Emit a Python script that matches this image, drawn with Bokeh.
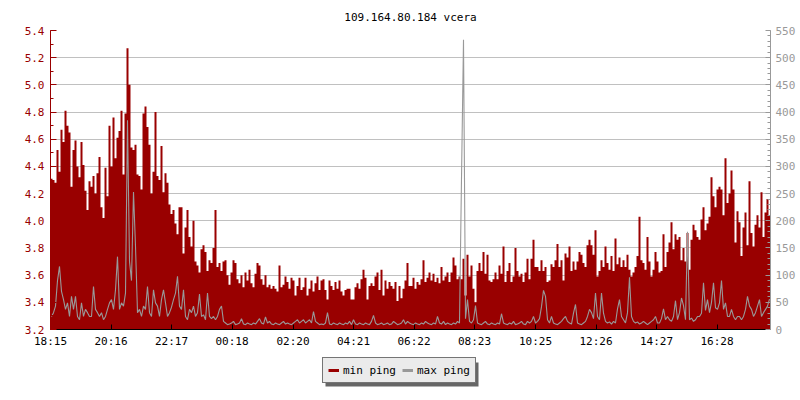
import numpy as np
from bokeh.plotting import figure
from bokeh.layouts import column
from bokeh.models import (Range1d, LinearAxis, FixedTicker, PrintfTickFormatter,
                          Legend, LegendItem, BoxAnnotation)
from bokeh.embed import file_html
from bokeh.resources import INLINE

title_text = "109.164.80.184 vcera"
start_label = "18:15"
tick_labels = ["18:15", "20:16", "22:17", "00:18", "02:20", "04:21",
               "06:22", "08:23", "10:25", "12:26", "14:27", "16:28"]
sample_minutes = 4
left_min, left_max, left_step = 3.2, 5.4, 0.2
right_min, right_max, right_step = 0, 550, 50
series_names = ["min ping", "max ping"]

min_ping = [
    4.31, 4.30, 4.28, 4.52, 4.36, 4.67, 4.58, 4.81, 4.70, 4.65, 4.25, 4.52, 4.59, 4.40, 4.32,
    4.58, 4.41, 4.22, 4.08, 4.29, 4.25, 4.33, 4.20, 4.35, 4.47, 4.10, 4.02, 4.39, 4.18, 4.70,
    4.40, 4.76, 4.46, 4.61, 4.66, 4.81, 4.34, 4.79, 5.27, 5.00, 4.54, 4.52, 4.56, 4.34, 4.33,
    4.23, 4.79, 4.84, 4.69, 4.56, 4.20, 4.36, 4.80, 4.33, 4.30, 4.55, 4.21, 4.35, 4.28,
    4.12, 4.05, 4.08, 3.98, 3.90, 4.10, 4.10, 3.76, 3.95, 4.08, 3.88, 3.81, 4.00, 3.70, 3.67,
    3.62, 3.79, 3.82, 3.77, 3.63, 3.71, 3.69, 3.80, 4.08, 3.66, 3.69, 3.63, 3.70, 3.71, 3.60,
    3.53, 3.62, 3.71, 3.69, 3.57, 3.54, 3.60, 3.51, 3.62, 3.56, 3.64, 3.54, 3.51, 3.61, 3.69,
    3.67, 3.57, 3.53, 3.60, 3.51, 3.53, 3.50, 3.52, 3.50, 3.48, 3.67, 3.51, 3.53, 3.59, 3.55,
    3.50, 3.58, 3.56, 3.45, 3.52, 3.58, 3.49, 3.51, 3.58, 3.45, 3.50, 3.56, 3.48, 3.54, 3.59,
    3.49, 3.56, 3.57, 3.49, 3.42, 3.56, 3.52, 3.49, 3.55, 3.50, 3.56, 3.48, 3.45, 3.49, 3.50,
    3.50, 3.42, 3.42, 3.51, 3.54, 3.50, 3.57, 3.64, 3.58, 3.42, 3.52, 3.54, 3.52, 3.59, 3.62,
    3.49, 3.64, 3.45, 3.56, 3.50, 3.55, 3.52, 3.50, 3.55, 3.41, 3.52, 3.43, 3.50, 3.56, 3.69,
    3.52,
    3.52, 3.58, 3.50, 3.55, 3.53, 3.57, 3.71, 3.55, 3.58, 3.62, 3.56, 3.61, 3.55, 3.58, 3.54,
    3.66, 3.56, 3.59, 3.62, 3.55, 3.62, 3.73, 3.67, 3.57, 3.59, 3.57, 3.72, 3.45, 3.75, 3.59,
    3.67, 3.50, 3.40, 3.63, 3.69, 3.63, 3.77, 3.61, 3.75, 3.56, 3.55, 3.57, 3.62, 3.57, 3.67,
    3.61, 3.81, 3.55, 3.63, 3.69, 3.55, 3.59, 3.80, 3.63, 3.59, 3.61, 3.55, 3.62, 3.72, 3.57,
    3.72, 3.86, 3.66, 3.66, 3.63, 3.71, 3.63, 3.66, 3.55, 3.56, 3.68, 3.66, 3.71, 3.83, 3.66,
    3.71, 3.56, 3.76, 3.73, 3.81, 3.63, 3.70, 3.64, 3.70, 3.77, 3.75, 3.69, 3.66, 3.82, 3.86,
    3.82, 3.75, 3.93, 3.59, 3.63, 3.71, 3.66, 3.81, 3.69, 3.64, 3.74, 3.63, 3.87, 3.68, 3.73,
    3.66, 3.71, 3.66, 3.75, 3.64, 3.59, 3.62, 3.66, 3.74, 4.03, 3.71, 3.69, 3.64, 3.88, 3.70,
    3.59, 3.64, 3.77, 3.70, 3.62, 3.63, 3.90, 3.66, 3.77, 3.84, 3.99, 3.79, 3.90, 3.86, 3.88,
    3.71, 3.80, 3.70, 3.91, 3.64, 3.86, 3.97, 3.93, 3.88, 3.86, 4.01, 4.10, 3.93, 3.98, 4.03,
    4.32, 4.18, 4.10, 4.23, 4.25, 4.23, 4.04, 4.46, 4.13, 4.20, 4.37, 4.23, 3.84, 4.07, 3.99,
    3.74, 3.95, 4.06, 3.82, 4.29, 3.91, 3.81, 3.97, 4.04, 3.95, 4.21, 3.88, 4.06, 4.16, 4.04,
]

max_ping = [
    24, 31, 43, 90, 116, 70, 55, 37, 49, 24, 61, 37, 61, 24, 18, 49, 24, 37, 31, 24,
    24, 79, 37, 31, 24, 31, 18, 24, 37, 49, 55, 37, 73, 134, 37, 49, 43, 67, 385, 125,
    90, 253, 153, 31, 37, 24, 43, 37, 79, 31, 24, 73, 49, 43, 24, 55, 73, 49, 24,
    31, 41, 55, 67, 98, 43, 37, 73, 24, 18, 37, 31, 43, 24, 31, 65, 24, 27, 18, 67,
    24, 20, 24, 18, 24, 37, 43, 15, 12, 9, 10, 12, 15, 9, 10, 12, 20, 10, 9, 12,
    10, 9, 12, 10, 15, 20, 12, 10, 23, 12, 15, 10, 9, 12, 10, 9, 12, 15, 10, 12,
    10, 9, 12, 15, 18, 12, 15, 18, 12, 15, 18, 12, 33, 15, 12, 9, 10, 9, 12, 31,
    10, 9, 12, 10, 9, 12, 10, 9, 12, 10, 15, 9, 18, 10, 9, 12, 10, 9, 12, 10,
    9, 15, 26, 12, 9, 10, 12, 9, 10, 12, 9, 10, 15, 12, 9, 10, 12, 18, 10, 15, 12,
    10, 9, 12, 10, 9, 12, 10, 15, 12, 10, 9, 12, 10, 24, 12, 10, 15, 9, 12, 10,
    9, 12, 10, 15, 12, 278, 533, 20, 55, 15, 12, 18, 44, 12, 10, 9, 12, 15, 10, 9,
    12, 10, 9, 12, 10, 29, 12, 10, 9, 12, 10, 15, 9, 10, 12, 15, 10, 9, 15, 12,
    15, 24, 12, 15, 20, 42, 72, 61, 18, 12, 24, 12, 10, 9, 12, 15, 20, 24, 15, 12,
    10, 30, 46, 12, 10, 9, 12, 15, 24, 37, 31, 20, 67, 24, 18, 67, 30, 15, 12, 14,
    10, 15, 12, 38, 55, 24, 18, 12, 31, 96, 24, 15, 12, 14, 10, 12, 15, 12, 9, 12,
    15, 18, 24, 12, 12, 20, 38, 18, 24, 18, 15, 24, 53, 18, 31, 58, 44, 18, 180, 18,
    21, 15, 18, 24, 24, 30, 86, 35, 55, 31, 50, 86, 40, 37, 49, 90, 37, 49, 24, 24,
    37, 24, 18, 24, 24, 18, 24, 37, 61, 43, 37, 24, 31, 43, 55, 24, 31, 37, 43, 56,
]

RED = "#990000"
GRAY = "#999999"
FONT = "DejaVu Sans Mono"


def to_minutes(label):
    h, m = map(int, label.split(":"))
    return h * 60 + m


start_min = to_minutes(start_label)
tick_pos = [(to_minutes(l) - start_min) % 1440 for l in tick_labels]

n = len(min_ping)
t = np.arange(n) * sample_minutes
t_end = n * sample_minutes

p = figure(width=800, height=350, output_backend="svg", toolbar_location=None,
           x_range=Range1d(0, t_end), y_range=Range1d(left_min, left_max),
           min_border_left=50, min_border_right=30, min_border_top=30,
           min_border_bottom=20, title=title_text)
p.title.align = "center"
p.title.text_font = FONT
p.title.text_font_size = "11px"
p.title.text_font_style = "normal"
p.title.text_color = "black"
p.title.standoff = 14
p.outline_line_color = None
p.background_fill_color = "white"
p.border_fill_color = "white"
p.extra_y_ranges = {"right": Range1d(right_min, right_max)}

# filled min ping area (step)
xs = list(t) + [t_end]
ys = list(min_ping) + [min_ping[-1]]
p.varea_step(x=xs, y1=[left_min] * len(xs), y2=ys, step_mode="after",
             fill_color=RED, fill_alpha=1.0)

# max ping line on right axis
p.line(x=t + sample_minutes / 2, y=max_ping, y_range_name="right",
       line_color=GRAY, line_width=1.1)

# axes
n_left = int(round((left_max - left_min) / left_step))
left_ticks = [round(left_min + k * left_step, 1) for k in range(n_left + 1)]
left_minor = [round(left_min + k * left_step / 2, 2) for k in range(2 * n_left + 1)]
right_ticks = list(range(right_min, right_max + 1, right_step))
right_minor = list(range(right_min, right_max + 1, 10))

xa = p.xaxis[0]
xa.ticker = FixedTicker(ticks=tick_pos, minor_ticks=[])
xa.major_label_overrides = {pos: lab for pos, lab in zip(tick_pos, tick_labels)}
xa.axis_line_color = "black"
xa.major_tick_line_color = "black"
xa.major_tick_in = 5
xa.major_tick_out = 0
xa.minor_tick_line_color = None
xa.major_label_standoff = 5
xa.major_label_text_font = FONT
xa.major_label_text_font_size = "11px"
xa.major_label_text_color = "black"

ya = p.yaxis[0]
ya.ticker = FixedTicker(ticks=left_ticks, minor_ticks=left_minor)
ya.formatter = PrintfTickFormatter(format="%.1f")
ya.axis_line_color = RED
ya.major_tick_line_color = RED
ya.minor_tick_line_color = RED
ya.major_tick_in = 6
ya.major_tick_out = 0
ya.minor_tick_in = 3
ya.minor_tick_out = 0
ya.major_label_standoff = 6
ya.major_label_text_font = FONT
ya.major_label_text_font_size = "11px"
ya.major_label_text_color = RED

ra = LinearAxis(y_range_name="right",
                ticker=FixedTicker(ticks=right_ticks, minor_ticks=right_minor))
ra.axis_line_color = GRAY
ra.major_tick_line_color = GRAY
ra.minor_tick_line_color = GRAY
ra.major_tick_in = 5
ra.major_tick_out = 0
ra.minor_tick_in = 3
ra.minor_tick_out = 0
ra.major_label_standoff = 5
ra.major_label_text_font = FONT
ra.major_label_text_font_size = "11px"
ra.major_label_text_color = GRAY
p.add_layout(ra, "right")

p.xgrid.visible = False
p.ygrid.ticker = FixedTicker(ticks=left_ticks)
p.ygrid.grid_line_color = "#c0c0c0"
p.ygrid.grid_line_width = 1

# legend strip below the chart (frame aligned with the chart's frame: 720 x 50 px)
LEG_X, LEG_Y, LEG_W, LEG_H, SHADOW = 272, 17, 153, 24, 3
q = figure(width=800, height=50, output_backend="svg", toolbar_location=None,
           x_range=Range1d(0, 720), y_range=Range1d(0, 50),
           x_axis_location=None, y_axis_location=None,
           min_border=0, min_border_left=0, min_border_right=0,
           min_border_top=0, min_border_bottom=0)
q.outline_line_color = None
q.grid.visible = False
q.background_fill_color = "white"
q.border_fill_color = "white"

q.add_layout(BoxAnnotation(left=LEG_X + SHADOW, right=LEG_X + LEG_W + SHADOW,
                           bottom=LEG_Y - SHADOW, top=LEG_Y + LEG_H - SHADOW,
                           fill_color="#666666", fill_alpha=1.0, line_color=None,
                           level="underlay"))

nan = np.array([np.nan])
lg1 = q.line(x=nan, y=nan, line_color=RED, line_width=3)
lg2 = q.line(x=nan, y=nan, line_color=GRAY, line_width=3)

legend = Legend(items=[LegendItem(label=series_names[0], renderers=[lg1]),
                       LegendItem(label=series_names[1], renderers=[lg2])],
                location=(LEG_X, LEG_Y), orientation="horizontal",
                glyph_width=11, glyph_height=14, label_height=14,
                label_standoff=4, spacing=6, padding=5, margin=0,
                label_text_font=FONT, label_text_font_size="11px",
                label_text_color="black", background_fill_color="#ebebeb",
                background_fill_alpha=1.0, border_line_color="black",
                border_line_width=1)
q.add_layout(legend, "center")

layout = column(p, q, spacing=0)
open("out.html", "w").write(file_html(layout, INLINE))
